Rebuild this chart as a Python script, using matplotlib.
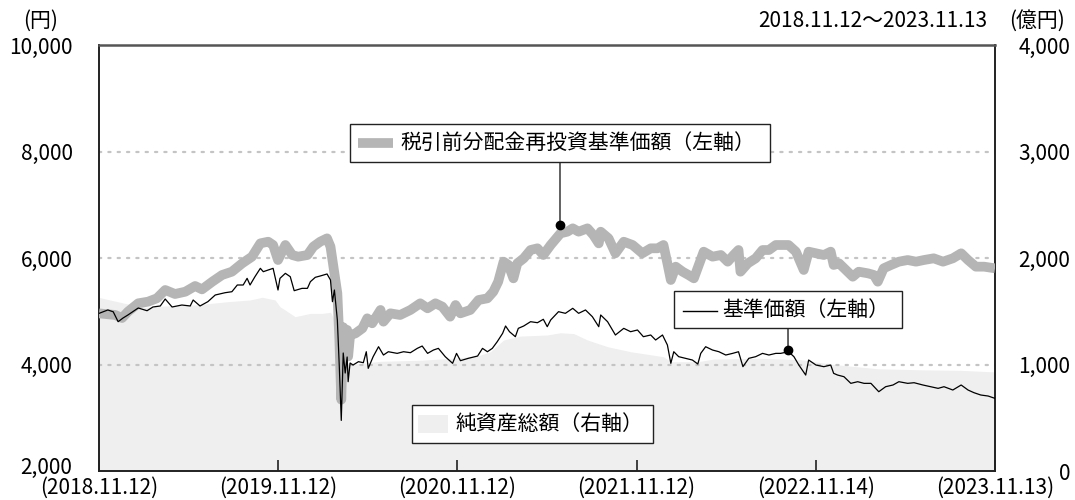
import matplotlib
matplotlib.use("Agg")
import matplotlib.pyplot as plt
import pandas as pd
from matplotlib.patches import Rectangle
from matplotlib.lines import Line2D

plt.rcParams['font.family'] = ['Noto Sans CJK JP', 'DejaVu Sans']

# ---------------- data ----------------
nav_dates = [
    "2018-11-12", "2018-11-30", "2018-12-11", "2018-12-21", "2018-12-31", "2019-01-10", "2019-01-31", "2019-02-18", "2019-03-02", "2019-03-17",
    "2019-03-27", "2019-04-10", "2019-04-30", "2019-05-17", "2019-05-23", "2019-06-06", "2019-06-22", "2019-07-07", "2019-07-27", "2019-08-10",
    "2019-08-21", "2019-09-02", "2019-09-10", "2019-09-16", "2019-09-26", "2019-10-07", "2019-10-13", "2019-10-23", "2019-11-02", "2019-11-12",
    "2019-11-16", "2019-11-27", "2019-12-07", "2019-12-15", "2019-12-31", "2020-01-11", "2020-01-17", "2020-01-27", "2020-02-06", "2020-02-20",
    "2020-02-27", "2020-03-02", "2020-03-06", "2020-03-12", "2020-03-16", "2020-03-20", "2020-03-24", "2020-03-28", "2020-04-01", "2020-04-03",
    "2020-04-07", "2020-04-13", "2020-04-24", "2020-05-04", "2020-05-10", "2020-05-14", "2020-05-24", "2020-06-04", "2020-06-14", "2020-06-24",
    "2020-07-12", "2020-07-25", "2020-08-08", "2020-08-22", "2020-09-01", "2020-09-12", "2020-09-24", "2020-10-04", "2020-10-18", "2020-11-02",
    "2020-11-10", "2020-11-18", "2020-12-04", "2020-12-23", "2021-01-02", "2021-01-12", "2021-01-22", "2021-02-01", "2021-02-12", "2021-02-18",
    "2021-02-26", "2021-03-10", "2021-03-16", "2021-03-27", "2021-04-10", "2021-04-24", "2021-05-06", "2021-05-14", "2021-05-21", "2021-06-06",
    "2021-06-20", "2021-07-05", "2021-07-17", "2021-07-31", "2021-08-14", "2021-08-27", "2021-08-31", "2021-09-14", "2021-09-30", "2021-10-17",
    "2021-10-31", "2021-11-14", "2021-11-26", "2021-12-11", "2021-12-21", "2022-01-04", "2022-01-14", "2022-01-21", "2022-01-27", "2022-02-06",
    "2022-02-20", "2022-03-06", "2022-03-17", "2022-03-23", "2022-04-02", "2022-04-16", "2022-04-29", "2022-05-13", "2022-05-27", "2022-06-08",
    "2022-06-17", "2022-06-29", "2022-07-13", "2022-07-27", "2022-08-09", "2022-08-23", "2022-09-02", "2022-09-18", "2022-09-29", "2022-10-09",
    "2022-10-23", "2022-10-29", "2022-11-13", "2022-11-29", "2022-12-13", "2022-12-19", "2022-12-27", "2023-01-09", "2023-01-23", "2023-02-06",
    "2023-02-19", "2023-03-05", "2023-03-21", "2023-04-04", "2023-04-19", "2023-05-01", "2023-05-19", "2023-06-01", "2023-06-19", "2023-07-05",
    "2023-07-20", "2023-08-01", "2023-08-19", "2023-09-05", "2023-09-19", "2023-10-01", "2023-10-15", "2023-10-30", "2023-11-13",
]
nav_values = [
    4960, 5024, 4990, 4804, 4873, 4930, 5061, 5010, 5080, 5099,
    5230, 5080, 5117, 5099, 5211, 5099, 5180, 5305, 5348, 5367,
    5493, 5493, 5618, 5493, 5649, 5806, 5743, 5775, 5806, 5399,
    5618, 5712, 5649, 5386, 5430, 5430, 5555, 5637, 5662, 5700,
    5587, 5180, 5399, 4836, 3959, 2950, 4216, 3840, 4141, 3677,
    4028, 3990, 4053, 4034, 4240, 3928, 4147, 4334, 4178, 4240,
    4209, 4240, 4222, 4303, 4347, 4209, 4272, 4303, 4147, 4022,
    4209, 4072, 4116, 4159, 4303, 4240, 4303, 4428, 4585, 4723,
    4616, 4522, 4679, 4723, 4804, 4785, 4849, 4710, 4836, 4992,
    4961, 5055, 4961, 5024, 4898, 4710, 4930, 4804, 4554, 4679,
    4616, 4648, 4522, 4554, 4460, 4554, 4366, 4022, 4240, 4147,
    4116, 4084, 4009, 4209, 4334, 4272, 4240, 4178, 4209, 4240,
    3959, 4116, 4147, 4209, 4178, 4209, 4209, 4240, 4147, 3990,
    3802, 4084, 3990, 3959, 3990, 3834, 3802, 3771, 3646, 3677,
    3646, 3646, 3489, 3583, 3615, 3677, 3646, 3658, 3615, 3583,
    3552, 3583, 3521, 3615, 3521, 3471, 3427, 3408, 3364,
]

reinv_dates = [
    "2018-11-12", "2018-12-15", "2018-12-29", "2019-01-10", "2019-01-31", "2019-02-20", "2019-03-10", "2019-03-27", "2019-04-16", "2019-05-07",
    "2019-05-27", "2019-06-10", "2019-07-01", "2019-07-21", "2019-08-10", "2019-08-31", "2019-09-20", "2019-10-07", "2019-10-23", "2019-11-02",
    "2019-11-12", "2019-11-27", "2019-12-11", "2019-12-23", "2020-01-11", "2020-01-23", "2020-02-06", "2020-02-20", "2020-02-27", "2020-03-04",
    "2020-03-12", "2020-03-16", "2020-03-20", "2020-03-24", "2020-03-28", "2020-04-01", "2020-04-03", "2020-04-07", "2020-04-18", "2020-05-02",
    "2020-05-12", "2020-05-22", "2020-06-08", "2020-06-14", "2020-06-28", "2020-07-18", "2020-08-08", "2020-08-28", "2020-09-12", "2020-09-28",
    "2020-10-12", "2020-10-28", "2020-11-08", "2020-11-18", "2020-12-08", "2020-12-25", "2021-01-12", "2021-01-24", "2021-02-03", "2021-02-14",
    "2021-02-24", "2021-03-06", "2021-03-14", "2021-03-27", "2021-04-10", "2021-04-24", "2021-05-06", "2021-05-21", "2021-06-10", "2021-06-24",
    "2021-07-05", "2021-07-17", "2021-08-04", "2021-08-16", "2021-08-27", "2021-08-31", "2021-09-16", "2021-09-30", "2021-10-17", "2021-11-04",
    "2021-11-24", "2021-12-11", "2021-12-25", "2022-01-06", "2022-01-14", "2022-01-21", "2022-01-31", "2022-02-14", "2022-02-26", "2022-03-09",
    "2022-03-19", "2022-03-29", "2022-04-16", "2022-05-03", "2022-05-17", "2022-05-29", "2022-06-08", "2022-06-12", "2022-06-27", "2022-07-13",
    "2022-07-27", "2022-08-09", "2022-08-23", "2022-09-02", "2022-09-18", "2022-10-03", "2022-10-19", "2022-10-29", "2022-11-13", "2022-11-29",
    "2022-12-13", "2022-12-19", "2022-12-30", "2023-01-13", "2023-01-27", "2023-02-08", "2023-02-27", "2023-03-11", "2023-03-19", "2023-03-31",
    "2023-04-15", "2023-05-01", "2023-05-19", "2023-06-05", "2023-06-21", "2023-07-11", "2023-07-30", "2023-08-19", "2023-09-05", "2023-09-19",
    "2023-10-05", "2023-10-22", "2023-11-13",
]
reinv_values = [
    4960, 4930, 4873, 4992, 5149, 5180, 5243, 5399, 5324, 5367,
    5474, 5411, 5555, 5681, 5743, 5900, 6025, 6275, 6306, 6244,
    5962, 6244, 6056, 6025, 6056, 6213, 6306, 6369, 6213, 5837,
    5337, 4500, 3340, 4700, 4300, 4650, 4150, 4550, 4585, 4679,
    4867, 4774, 5024, 4804, 4961, 4930, 5024, 5149, 5055, 5149,
    5087, 4898, 5117, 4961, 5024, 5211, 5243, 5367, 5555, 5931,
    5869, 5618, 5900, 5994, 6150, 6182, 6056, 6244, 6463, 6494,
    6557, 6494, 6557, 6432, 6275, 6494, 6369, 6088, 6306, 6244,
    6088, 6182, 6182, 6244, 5900, 5587, 5837, 5743, 5681, 5618,
    5869, 6119, 6025, 6056, 5931, 6056, 6150, 5743, 5900, 5994,
    6150, 6150, 6244, 6244, 6244, 6119, 5775, 6119, 6088, 6056,
    6119, 5869, 5900, 5775, 5649, 5743, 5712, 5681, 5555, 5806,
    5869, 5931, 5962, 5931, 5962, 5994, 5931, 5994, 6088, 5962,
    5837, 5837, 5806,
]

aum_dates = [
    "2018-11-12", "2018-12-04", "2019-01-04", "2019-02-14", "2019-03-27", "2019-05-27", "2019-08-02", "2019-09-16", "2019-10-11", "2019-11-06",
    "2019-11-16", "2019-12-17", "2020-01-17", "2020-02-10", "2020-02-27", "2020-03-08", "2020-03-16", "2020-03-20", "2020-03-26", "2020-04-07",
    "2020-06-08", "2020-08-28", "2020-11-08", "2020-12-23", "2021-01-18", "2021-02-14", "2021-03-20", "2021-05-14", "2021-06-10", "2021-07-07",
    "2021-08-04", "2021-09-14", "2021-10-31", "2022-01-06", "2022-01-21", "2022-03-17", "2022-04-18", "2022-07-23", "2022-10-13", "2022-12-19",
    "2023-03-19", "2023-06-15", "2023-09-05", "2023-11-13",
]
aum_values = [  # 億円
    1630, 1606, 1574, 1537, 1549, 1559, 1590, 1606, 1631, 1606,
    1543, 1449, 1480, 1480, 1490, 1400, 1150, 900, 1020, 1000,
    1030, 1040, 1060, 1080, 1120, 1230, 1267, 1277, 1298, 1290,
    1230, 1167, 1120, 1073, 1026, 1026, 1051, 1058, 1045, 1000,
    960, 950, 945, 930,
]

x_tick_dates = ["2018-11-12", "2019-11-12", "2020-11-12", "2021-11-12", "2022-11-14", "2023-11-13"]
x_tick_labels = ["(2018.11.12)", "(2019.11.12)", "(2020.11.12)", "(2021.11.12)", "(2022.11.14)", "(2023.11.13)"]
left_ticks = [2000, 4000, 6000, 8000, 10000]
right_ticks = [0, 1000, 2000, 3000, 4000]

label_reinv = "税引前分配金再投資基準価額（左軸）"
label_nav = "基準価額（左軸）"
label_aum = "純資産総額（右軸）"

# ---------------- figure ----------------
W, H = 1075, 500
fig = plt.figure(figsize=(W / 100, H / 100), dpi=100)
L, R, T, B = 99, 995, 45, 471
ax = fig.add_axes([L / W, 1 - B / H, (R - L) / W, (B - T) / H])
ax2 = ax.twinx()
ax.set_zorder(ax2.get_zorder() + 1)
ax.patch.set_visible(False)

def fx(px):
    return (px - L) / (R - L)

def fy(py):
    return (B - py) / (B - T)

GRAY = "#b4b5b4"
AREA = "#efefef"
FS = 15

nd = pd.to_datetime(nav_dates)
rd = pd.to_datetime(reinv_dates)
ad = pd.to_datetime(aum_dates)

ax2.fill_between(ad, aum_values, 0, color=AREA, lw=0)
ax2.set_ylim(0, 4000)

ax.plot(rd, reinv_values, color=GRAY, lw=7, solid_joinstyle="round", solid_capstyle="butt", zorder=3)
ax.plot(nd, nav_values, color="black", lw=0.9, zorder=4)

ax.set_xlim(pd.Timestamp(x_tick_dates[0]), pd.Timestamp(x_tick_dates[-1]))
ax.set_ylim(2000, 10000)

for v in [4000, 6000, 8000]:
    ax.axhline(v, color="#c4c4c4", lw=1.6, ls=(0, (1, 3.2)), dash_capstyle="round", zorder=1)

ax.set_yticks(left_ticks)
ax.set_yticklabels([""] + [f"{v:,}" for v in left_ticks[1:]], fontsize=FS)
ax.tick_params(axis="y", length=0, pad=19)
# bottom-most left label nudged up a little, as in the original
fig.text(72 / W, 1 - 468 / H, f"{left_ticks[0]:,}", ha="right", va="center", fontsize=FS)
ax2.set_yticks(right_ticks)
ax2.set_yticklabels([f"{v:,}" for v in right_ticks], fontsize=FS, ha="right")
ax2.tick_params(axis="y", length=0, pad=54)

ax.set_xticks(pd.to_datetime(x_tick_dates))
ax.set_xticklabels(x_tick_labels, fontsize=FS)
ax.tick_params(axis="x", direction="in", length=8, width=1.2, pad=4, color="#222222")

for s in ["left", "bottom", "right"]:
    ax.spines[s].set_color("#222222")
    ax.spines[s].set_linewidth(1.4)
ax.spines["top"].set_color("#555555")
ax.spines["top"].set_linewidth(1.8)
for s in ax2.spines.values():
    s.set_visible(False)

# header texts
fig.text(41 / W, 1 - 21 / H, "(円)", ha="center", va="center", fontsize=FS)
fig.text(987 / W, 1 - 21 / H, "2018.11.12～2023.11.13", ha="right", va="center", fontsize=FS)
fig.text(1037 / W, 1 - 21 / H, "(億円)", ha="center", va="center", fontsize=FS)

# legend boxes
def box(x0, y0, x1, y1):
    ax.add_patch(Rectangle((fx(x0), fy(y1)), fx(x1) - fx(x0), fy(y0) - fy(y1), transform=ax.transAxes,
                           facecolor="white", edgecolor="#222222", lw=1.0, zorder=10, clip_on=False))

box(350, 124, 770, 162)
ax.add_line(Line2D([fx(358), fx(393)], [fy(143), fy(143)], transform=ax.transAxes, color=GRAY, lw=7,
                   solid_capstyle="butt", zorder=11))
ax.text(fx(400), fy(143), label_reinv, transform=ax.transAxes, ha="left", va="center", fontsize=FS, zorder=12)

box(674, 291, 902, 328)
ax.add_line(Line2D([fx(683), fx(717)], [fy(311), fy(311)], transform=ax.transAxes, color="black", lw=1.0, zorder=11))
ax.text(fx(722), fy(310), label_nav, transform=ax.transAxes, ha="left", va="center", fontsize=FS, zorder=12)

box(412, 405, 653, 443)
ax.add_patch(Rectangle((fx(418), fy(433)), fx(448) - fx(418), fy(415) - fy(433), transform=ax.transAxes,
                       facecolor=AREA, edgecolor="none", zorder=11))
ax.text(fx(455), fy(424), label_aum, transform=ax.transAxes, ha="left", va="center", fontsize=FS, zorder=12)

# leader lines with dots
ann1 = (pd.Timestamp("2021-06-09"), 6620)
ann2 = (pd.Timestamp("2022-09-17"), 4272)
ax.annotate("", xy=ann1, xycoords="data", xytext=(fx(560), fy(162)), textcoords="axes fraction",
            arrowprops=dict(arrowstyle="-", color="#222222", lw=1.0, shrinkA=0, shrinkB=0), zorder=9)
ax.plot([ann1[0]], [ann1[1]], "o", color="black", ms=6, zorder=9)
ax.annotate("", xy=ann2, xycoords="data", xytext=(fx(788), fy(328)), textcoords="axes fraction",
            arrowprops=dict(arrowstyle="-", color="#222222", lw=1.0, shrinkA=0, shrinkB=0), zorder=9)
ax.plot([ann2[0]], [ann2[1]], "o", color="black", ms=6, zorder=9)

fig.savefig("out.png", dpi=100)
